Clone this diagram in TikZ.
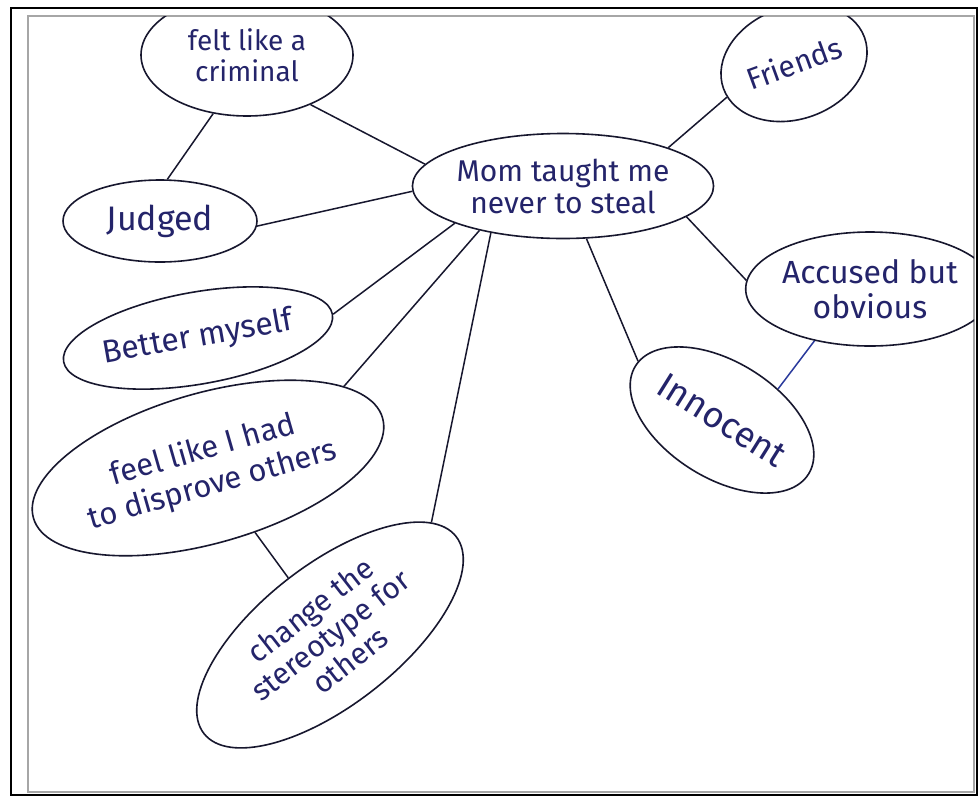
\documentclass[tikz,border=0pt]{standalone}
\usepackage{fontspec}
\setmainfont{Fira Sans}
\usetikzlibrary{shapes.geometric}

\definecolor{ink}{HTML}{17172E}
\definecolor{pen}{HTML}{24246A}
\definecolor{bluepen}{HTML}{2A3A9C}

\begin{document}
\begin{tikzpicture}[x=1pt, y=-1pt,
    idea/.style={ellipse, draw=ink, line width=1.6pt, text=pen, align=center,
      inner sep=0pt, font=\fontsize{30}{32}\selectfont},
    link/.style={draw=ink, line width=1.5pt}]
  \useasboundingbox (0, 0) rectangle (979, 796);

  % sheet
  \draw[line width=2.5pt, fill=white] (11, 8) rectangle (977, 795);
  \draw[gray!70, line width=1.2pt] (28, 16) rectangle (974, 792);

  \begin{scope}
    \clip (28, 16) rectangle (974, 792);

    \node[idea, minimum width=290pt, minimum height=105pt] (mom) at (563, 186)
      {Mom taught me\\never to steal};
    \node[idea, minimum width=212pt, minimum height=122pt,
      font=\fontsize{28}{31}\selectfont] (crim) at (247, 55)
      {felt like a\\criminal};
    \node[idea, minimum width=194pt, minimum height=82pt,
      font=\fontsize{34}{38}\selectfont] (judged) at (160, 221) {Judged};
    \node[idea, minimum width=150pt, minimum height=112pt, rotate=20] (friends)
      at (794, 63) {Friends};
    \node[idea, minimum width=272pt, minimum height=92pt, rotate=10,
      font=\fontsize{32}{36}\selectfont] (better) at (198, 338) {Better myself};
    \node[idea, minimum width=212pt, minimum height=114pt,
      font=\fontsize{32}{35}\selectfont] (acc) at (870, 289) {Accused but\\obvious};
    \node[idea, minimum width=204pt, minimum height=116pt, rotate=-32,
      font=\fontsize{36}{40}\selectfont] (inno) at (722, 420) {Innocent};
    \node[idea, minimum width=360pt, minimum height=150pt, rotate=16,
      font=\fontsize{31}{36}\selectfont] (feel) at (208, 468)
      {feel like I had\\to disprove others};
    \node[idea, minimum width=320pt, minimum height=140pt, rotate=38] (change)
      at (330, 635) {change the\\stereotype for\\others};
  \end{scope}

  \draw[link] (crim.-38) -- (mom.171);
  \draw[link] (crim.240) -- (judged.80);
  \draw[link] (judged.-3) -- (mom.182);
  \draw[link] (better.east) -- (mom.199);
  \draw[link] (feel.15) -- (mom.208);
  \draw[link] (change.10) -- (mom.213);
  \draw[link] (feel) -- (change);
  \draw[link] (mom.20) -- (friends.187);
  \draw[link] (mom.-14) -- (acc.176);
  \draw[link] (mom.-66) -- (inno.177);
  \draw[link, draw=bluepen] (inno.61) -- (acc.223);
\end{tikzpicture}
\end{document}
